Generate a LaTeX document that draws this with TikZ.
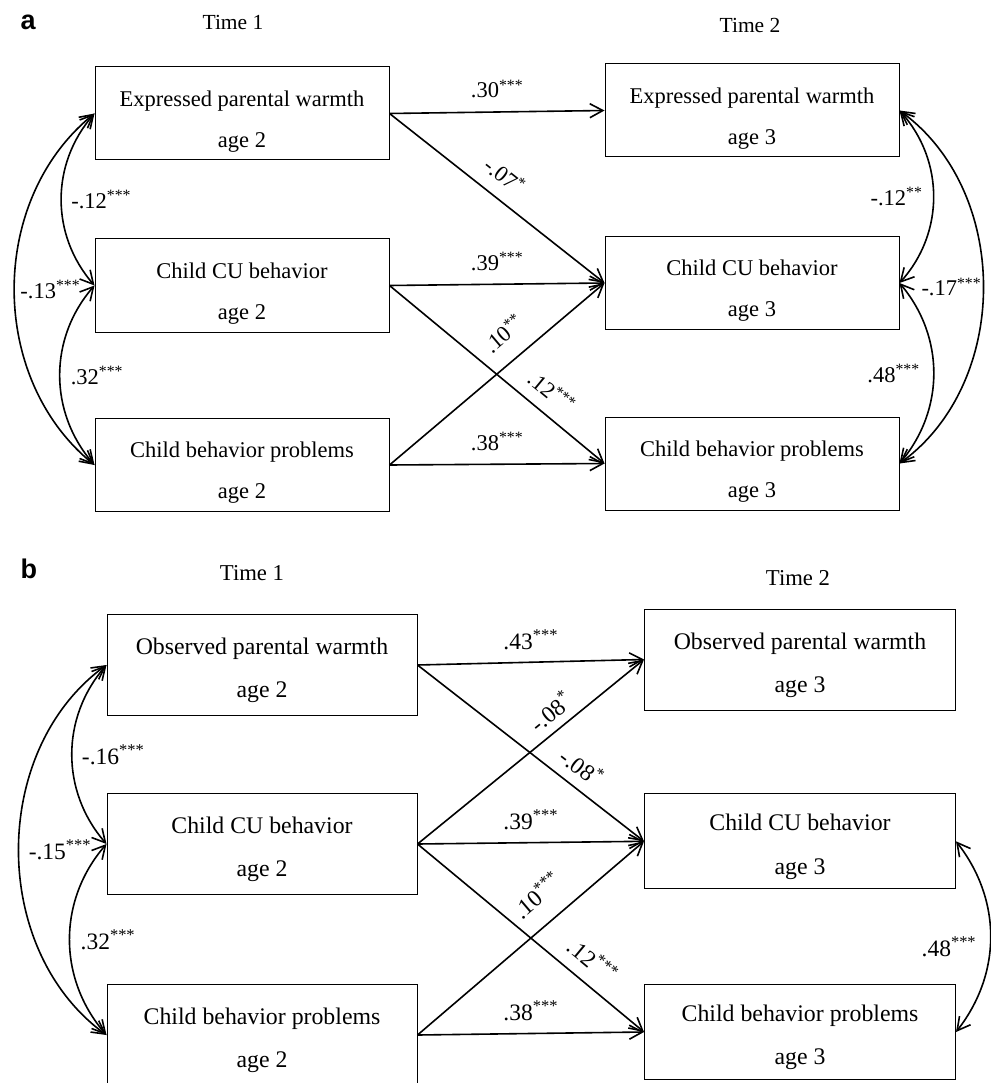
\documentclass[tikz,border=0pt]{standalone}
\usepackage{fontspec}
\setmainfont{Liberation Serif}
\newfontfamily\panelsans{Liberation Sans}
\usetikzlibrary{positioning,arrows.meta}

\newcommand{\sig}[1]{\textsuperscript{#1}}

\tikzset{
  box/.style={draw, line width=1pt, inner sep=0pt, align=center},
  boxa/.style={box, minimum width=294pt, minimum height=93pt,
    font=\fontsize{22.5}{41}\selectfont, execute at begin node={\rule{0pt}{72pt}}},
  boxb/.style={box, minimum width=311pt, minimum height=101pt,
    font=\fontsize{23.8}{43.3}\selectfont, execute at begin node={\rule{0pt}{71pt}}},
  coef/.style={inner sep=1pt, font=\fontsize{#1}{#1}\selectfont},
  coef/.default=22.5,
  timelabel/.style={anchor=base, font=\fontsize{#1}{#1}\selectfont},
  panel/.style={anchor=base west, font=\panelsans\bfseries\fontsize{27}{27}\selectfont},
  eff/.style={-{Straight Barb[length=13pt,width=14pt]}, line width=1.6pt},
  cov/.style={{Straight Barb[length=13pt,width=14pt]}-{Straight Barb[length=13pt,width=14pt]}, line width=1.6pt},
}

\begin{document}
\begin{tikzpicture}[x=1pt, y=-1pt]
  \useasboundingbox (0,0) rectangle (990,1083);

  % panel a
  \node[panel] (pa) at (17,30) {a};
  \node[timelabel=21.5] (ta1) at (233,30) {Time 1};
  \node[timelabel=21.5] (ta2) at (750,33) {Time 2};

  \node[boxa] (al1) at (242,113.5) {Expressed parental warmth\\age 2};
  \node[boxa] (al2) at (242,285.5) {Child CU behavior\\age 2};
  \node[boxa] (al3) at (242,465) {Child behavior problems\\age 2};
  \node[boxa] (ar1) at (752,110.5) {Expressed parental warmth\\age 3};
  \node[boxa] (ar2) at (752,283) {Child CU behavior\\age 3};
  \node[boxa] (ar3) at (752,463.5) {Child behavior problems\\age 3};

  \draw[eff] (al1.east) -- node[coef, above=12pt] {.30\sig{***}} (ar1.west);
  \draw[eff] (al2.east) -- node[coef, above=12pt] {.39\sig{***}} (ar2.west);
  \draw[eff] (al3.east) -- node[coef, above=12pt] {.38\sig{***}} (ar3.west);
  \draw[eff] (al1.east) -- node[coef, sloped, above=12pt, pos=0.47] {-.07\sig{*}} (ar2.west);
  \draw[eff] (al2.east) -- node[coef, sloped, above=11pt, pos=0.69] {.12\sig{***}} (ar3.west);
  \draw[eff] (al3.east) -- node[coef, sloped, above=16pt, pos=0.61] {.10\sig{**}} (ar2.west);

  \draw[cov] (al1.west) to[bend right=41] node[coef, right=8pt] {-.12\sig{***}} (al2.west);
  \draw[cov] (al1.west) to[bend right=51] node[coef, right=4pt] {-.13\sig{***}} (al3.west);
  \draw[cov] (al2.west) to[bend right=41] node[coef, right=9pt] {.32\sig{***}} (al3.west);
  \draw[cov] (ar1.east) to[bend left=42] node[coef, left=9pt] {-.12\sig{**}} (ar2.east);
  \draw[cov] (ar1.east) to[bend left=54] node[coef, left=0pt] {-.17\sig{***}} (ar3.east);
  \draw[cov] (ar2.east) to[bend left=40] node[coef, left=12pt] {.48\sig{***}} (ar3.east);

  % panel b
  \node[panel] (pb) at (17,578) {b};
  \node[timelabel=22.7] (tb1) at (252,580) {Time 1};
  \node[timelabel=22.7] (tb2) at (798,585) {Time 2};

  \node[boxb, minimum width=310pt] (bl1) at (262,665) {Observed parental warmth\\age 2};
  \node[boxb, minimum width=310pt] (bl2) at (262,844) {Child CU behavior\\age 2};
  \node[boxb, minimum width=310pt] (bl3) at (262,1035) {Child behavior problems\\age 2};
  \node[boxb] (br1) at (800,659.5) {Observed parental warmth\\age 3};
  \node[boxb, minimum height=95pt] (br2) at (800,841.3) {Child CU behavior\\age 3};
  \node[boxb, minimum height=95pt] (br3) at (800,1032) {Child behavior problems\\age 3};

  \draw[eff] (bl1.east) -- node[coef=23.5, above=11pt] {.43\sig{***}} (br1.west);
  \draw[eff] (bl2.east) -- node[coef=23.5, above=11pt] {.39\sig{***}} (br2.west);
  \draw[eff] (bl3.east) -- node[coef=23.5, above=11pt] {.38\sig{***}} (br3.west);
  \draw[eff] (bl1.east) -- node[coef=23.5, sloped, above=9pt, pos=0.67] {-.08\sig{*}} (br2.west);
  \draw[eff] (bl2.east) -- node[coef=23.5, sloped, above=7pt, pos=0.64] {-.08\sig{*}} (br1.west);
  \draw[eff] (bl2.east) -- node[coef=23.5, sloped, above=11pt, pos=0.71] {.12\sig{***}} (br3.west);
  \draw[eff] (bl3.east) -- node[coef=23.5, sloped, above=17pt, pos=0.61] {.10\sig{***}} (br2.west);

  \draw[cov] (bl1.west) to[bend right=41] node[coef=23.5, right=8pt] {-.16\sig{***}} (bl2.west);
  \draw[cov] (bl1.west) to[bend right=54] node[coef=23.5, right=8pt] {-.15\sig{***}} (bl3.west);
  \draw[cov] (bl2.west) to[bend right=41] node[coef=23.5, right=9pt] {.32\sig{***}} (bl3.west);
  \draw[cov] (br2.east) to[bend left=38] node[coef=23.5, left=12pt, pos=0.55] {.48\sig{***}} (br3.east);
\end{tikzpicture}
\end{document}
